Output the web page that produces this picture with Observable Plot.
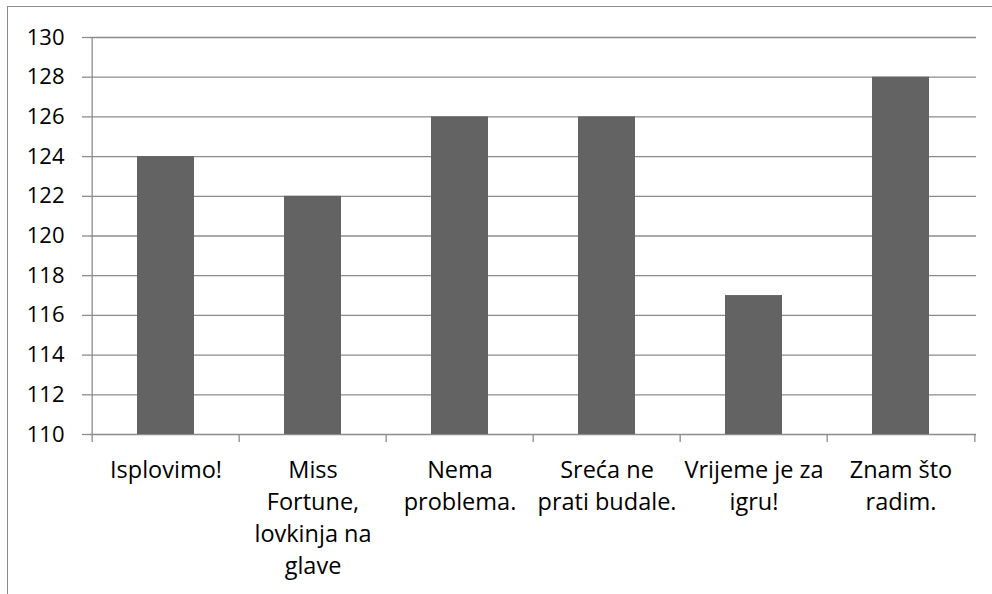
<!DOCTYPE html>
<html>
<head>
<meta charset="utf-8">
<script src="https://cdn.jsdelivr.net/npm/d3@7"></script>
<script src="https://cdn.jsdelivr.net/npm/@observablehq/plot@0.6"></script>
<style>
  html, body { margin: 0; padding: 0; background: #fff; }
  #wrap { position: relative; width: 992px; height: 594px; overflow: hidden; }
  #frame { position: absolute; left: 7px; top: 6px; width: 1200px; height: 800px; border: 1.3px solid #8c8c8c; box-sizing: border-box; }
  #chart { position: absolute; left: 0; top: 0; }
</style>
</head>
<body>
<div id="wrap"><div id="frame"></div><div id="chart"></div></div>
<script>
const categories = ["Isplovimo!", "Miss Fortune, lovkinja na glave", "Nema problema.", "Sreća ne prati budale.", "Vrijeme je za igru!", "Znam što radim."];
const tickLabels = ["Isplovimo!", "Miss\nFortune,\nlovkinja na\nglave", "Nema\nproblema.", "Sreća ne\nprati budale.", "Vrijeme je za\nigru!", "Znam što\nradim."];
const values = [124, 122, 126, 126, 117, 128];
const yTicks = [110, 112, 114, 116, 118, 120, 122, 124, 126, 128, 130];

const data = categories.map((c, i) => ({category: c, value: values[i]}));

const W = 992, H = 594, mL = 90, mR = 16, mT = 37, mB = 160;
const half = (W - mL - mR) / categories.length / 2;
const grid = "#8c8c8c";

const chart = Plot.plot({
  width: W, height: H,
  marginLeft: mL, marginRight: mR, marginTop: mT, marginBottom: mB,
  style: {fontFamily: "Open Sans", fontSize: "22px", background: "transparent", color: "#000"},
  x: {domain: categories, paddingInner: 0.61, paddingOuter: 0.305, label: null},
  y: {domain: [110, 130], label: null},
  marks: [
    Plot.ruleY(yTicks, {stroke: grid, strokeWidth: 1.3}),
    Plot.barY(data, {x: "category", y1: 110, y2: "value", fill: "#636363"}),
    Plot.ruleX([categories[0]], {y1: 109.6, y2: 130, dx: -half, stroke: grid, strokeWidth: 1.3}),
    Plot.ruleX(categories.slice(1), {y1: 109.6, y2: 110, dx: -half, stroke: grid, strokeWidth: 1.3}),
    Plot.ruleX([categories[categories.length - 1]], {y1: 109.6, y2: 110, dx: half, stroke: grid, strokeWidth: 1.3}),
    Plot.axisY(yTicks, {tickSize: 8, tickPadding: 18, stroke: grid, strokeWidth: 1.3, fill: "#000", fontSize: 22, label: null}),
    Plot.axisX({tickSize: 0, tickPadding: 21, fontSize: 23.5, lineHeight: 1.36, fill: "#000", label: null,
      tickFormat: (d) => tickLabels[categories.indexOf(d)]})
  ]
});
document.getElementById("chart").appendChild(chart);
</script>
</body>
</html>
